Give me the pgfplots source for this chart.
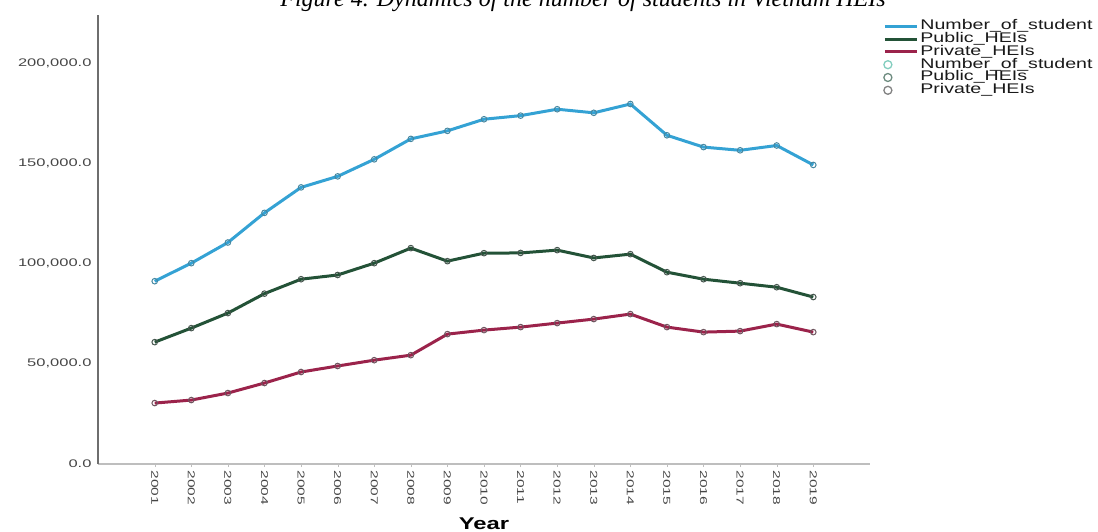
\documentclass[border=0pt]{standalone}
\usepackage{pgfplots}
\pgfplotsset{compat=1.18}
\usepackage{fontspec}
\setmainfont{Liberation Sans}
\newfontfamily\titlefont{Liberation Serif}
\newcommand{\hs}[1]{\scalebox{1.4}[1]{#1}}
\newcommand{\ls}[1]{\scalebox{1.4}[1]{#1}}
\definecolor{cblue}{RGB}{52,162,212}
\definecolor{cgreen}{RGB}{35,82,55}
\definecolor{cred}{RGB}{155,35,75}
\definecolor{mblue}{RGB}{70,135,160}
\definecolor{mgreen}{RGB}{70,85,78}
\definecolor{mred}{RGB}{110,85,95}
\definecolor{lblue}{RGB}{130,205,190}
\definecolor{lgreen}{RGB}{110,140,128}
\definecolor{lred}{RGB}{130,130,130}

\pgfplotsset{
  linelegend/.style={legend image code/.code={\draw[##1] (0pt,0pt) -- (32pt,0pt);}},
  circlegend/.style={legend image code/.code={\draw[#1, line width=1.3pt] (3pt,0pt) circle (4pt); \path (32pt,0pt);}},
}

\pgfplotstableread{
year total public private
2001 91200 60800 30400
2002 100200 67800 31900
2003 110500 75300 35400
2004 125300 85000 40400
2005 138000 92200 45900
2006 143500 94300 48900
2007 152000 100200 51800
2008 162200 107700 54300
2009 166200 101200 64800
2010 172000 105200 66800
2011 173800 105300 68300
2012 177000 106700 70300
2013 175200 102800 72300
2014 179600 104700 74800
2015 164000 95700 68300
2016 158100 92200 65800
2017 156500 90200 66300
2018 158900 88200 69800
2019 149200 83300 65800
}\datatable

\begin{document}
\begin{tikzpicture}
\useasboundingbox (0pt,0pt) rectangle (1098pt,-531pt);
\node[anchor=base, font=\titlefont\itshape\fontsize{24}{24}\selectfont] at (583pt,-6pt) {Figure 4. Dynamics of the number of students in Vietnam HEIs};
\begin{axis}[
  at={(98pt,-464pt)}, anchor=south west,
  scale only axis, width=772pt, height=449pt,
  xmin=1999.45, xmax=2020.55, ymin=0, ymax=224000,
  axis x line*=bottom, axis y line*=left,
  x axis line style={draw={rgb,255:red,190;green,190;blue,190}, line width=2.5pt},
  y axis line style={draw={rgb,255:red,110;green,110;blue,110}, line width=1.2pt},
  xtick={2001,2002,...,2019},
  ytick={0,50000,100000,150000,200000},
  scaled y ticks=false,
  tick align=outside,
  xtick style={draw={rgb,255:red,190;green,190;blue,190}},
  major tick length=3pt,
  ytick style={draw=none},
  yticklabel={\scalebox{1.5}[1]{\pgfmathprintnumber[fixed,fixed zerofill,precision=1,1000 sep={,},assume math mode=true]{\tick}}},
  yticklabel style={font=\fontsize{11}{11}\selectfont, text={rgb,255:red,70;green,70;blue,70}},
  xticklabel={\scalebox{1.55}[1]{\pgfmathprintnumber[fixed,precision=0,1000 sep={},assume math mode=true]{\tick}}},
  xticklabel style={rotate=-90, anchor=west, font=\fontsize{10}{10}\selectfont, text={rgb,255:red,70;green,70;blue,70}},
  xlabel={\hs{\bfseries Year}},
  xlabel style={font=\fontsize{17}{17}\selectfont, at={(axis description cs:0.5,0)}, anchor=base, yshift=-65pt},
  legend style={at={(axis description cs:1.013,0.994)}, anchor=north west, draw=none, fill=none,
    font=\fontsize{14}{14}\selectfont, text={rgb,255:red,25;green,25;blue,25},
    nodes={inner sep=0pt, text height=9.8pt, text depth=3pt},
    row sep=0pt, /tikz/every odd column/.append style={column sep=2pt}},
  legend cell align=left,
  clip=false,
]
\addplot[cblue, line width=3pt, linelegend] table[x=year,y=total] {\datatable};
\addlegendentry{\ls{Number\_of\_student}}
\addplot[cgreen, line width=3pt, linelegend] table[x=year,y=public] {\datatable};
\addlegendentry{\ls{Public\_HEIs}}
\addplot[cred, line width=3pt, linelegend] table[x=year,y=private] {\datatable};
\addlegendentry{\ls{Private\_HEIs}}
\addplot[only marks, mark=o, mark size=2.8pt, mblue, line width=1pt, circlegend=lblue] table[x=year,y=total] {\datatable};
\addlegendentry{\ls{Number\_of\_student}}
\addplot[only marks, mark=o, mark size=2.8pt, mgreen, line width=1pt, circlegend=lgreen] table[x=year,y=public] {\datatable};
\addlegendentry{\ls{Public\_HEIs}}
\addplot[only marks, mark=o, mark size=2.8pt, mred, line width=1pt, circlegend=lred] table[x=year,y=private] {\datatable};
\addlegendentry{\ls{Private\_HEIs}}
\end{axis}
\end{tikzpicture}
\end{document}
